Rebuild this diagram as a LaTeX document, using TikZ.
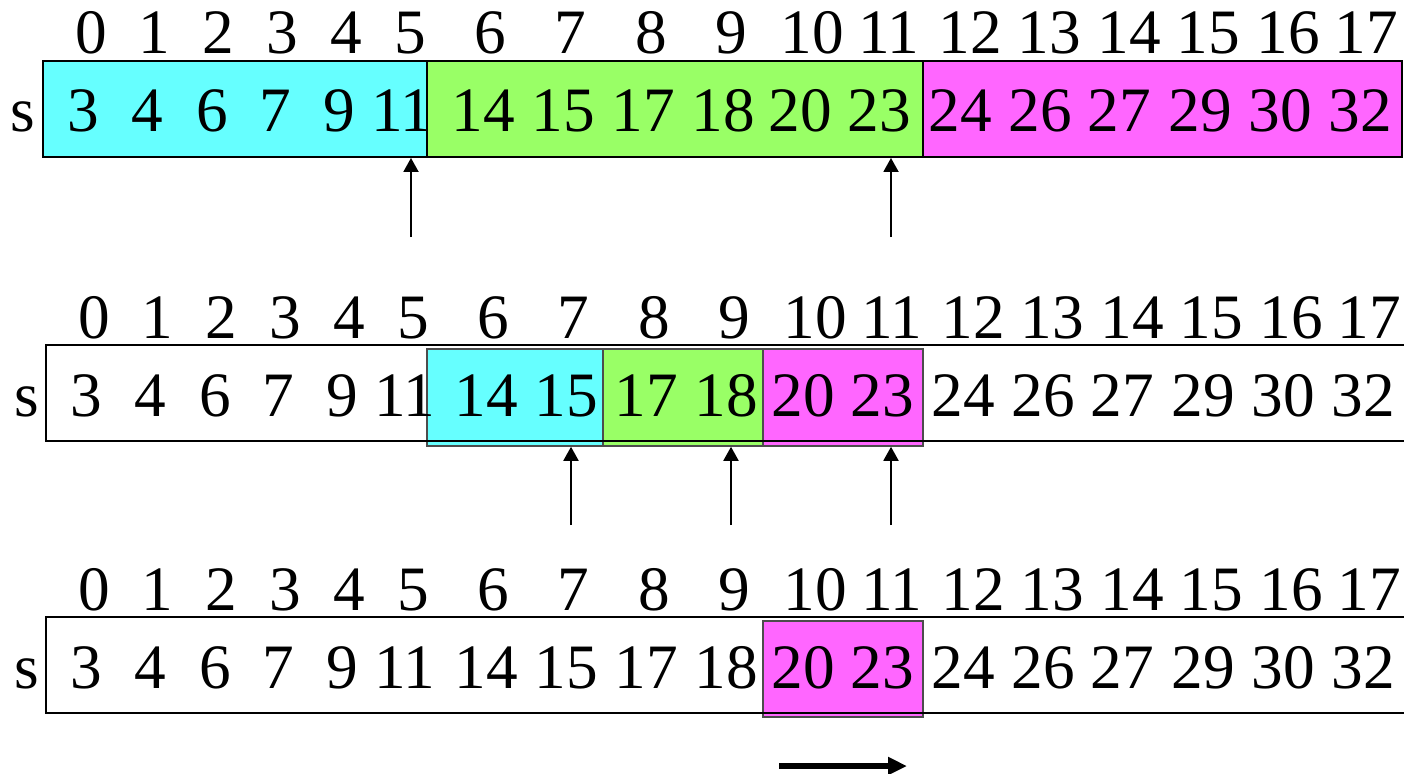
\documentclass[tikz,border=0pt]{standalone}
\usepackage{fontspec}
\setmainfont{Liberation Serif}
\usetikzlibrary{arrows.meta,fit}
\definecolor{segcyan}{RGB}{102,255,255}
\definecolor{seggreen}{RGB}{153,255,102}
\definecolor{segpink}{RGB}{255,102,255}
\tikzset{
  >={Triangle[length=2.8mm,width=3mm]},
  num/.style={font=\fontsize{36}{40}\selectfont,inner sep=0pt,anchor=base},
  row/.style={draw,line width=1.1pt,inner sep=0pt},
  seg/.style={fill=#1,draw,line width=1.1pt,inner sep=0pt},
  overlay/.style={fill=#1,draw=black!70,line width=0.9pt,inner sep=0pt},
  pointer/.style={->,line width=1.1pt},
  shift arrow/.style={-{Triangle[length=3.8mm,width=3.4mm]},line width=3.6pt},
}

\begin{document}
\begin{tikzpicture}[x=0.02cm,y=-0.02cm]
  \useasboundingbox (0,0) rectangle (1404,774);
  \clip (0,0) rectangle (1404,774);

  % first row: three parts
  \node[seg=segcyan,fit={(43,61) (427,157)}] (c1) {};
  \node[seg=seggreen,fit={(427,61) (923,157)}] (g1) {};
  \node[seg=segpink,fit={(923,61) (1402,157)}] (p1) {};
  \node[row,fit={(43,61) (1402,157)}] (row1) {};

  % second row
  \node[overlay=segcyan,fit={(427,349) (603,446)}] (c2) {};
  \node[overlay=seggreen,fit={(603,349) (763,446)}] (g2) {};
  \node[overlay=segpink,fit={(763,349) (923,446)}] (p2) {};
  \node[row,fit={(46,345) (1408,441)}] (row2) {};

  % third row
  \node[overlay=segpink,fit={(763,621) (923,717)}] (p3) {};
  \node[row,fit={(46,617) (1408,713)}] (row3) {};

  % indices, values and name of each row
  \foreach \rw/\y/\dx/\sx in {1/0/0/23,2/285/3/27,3/557/3/27}{
    \node[num] (s\rw) at (\sx,131+\y) {s};
    \foreach \x [count=\k from 0] in {91,154,218,282,346,410,490,570,651,731,812,889,970,1049,1129,1208,1288,1366}
      \node[num] (i\rw-\k) at (\x+\dx,53+\y) {\k};
    \foreach \x/\v [count=\k from 0] in {83/3,147/4,212/6,275/7,339/9,402/11,483/14,563/15,643/17,723/18,800/20,879/23,960/24,1040/26,1119/27,1200/29,1280/30,1360/32}
      \node[num] (v\rw-\k) at (\x+\dx,131+\y) {\v};
  }

  % pointers
  \coordinate (t1a) at (411,237);
  \coordinate (t1b) at (891,237);
  \draw[pointer] (t1a) -- (t1a |- row1.south);
  \draw[pointer] (t1b) -- (t1b |- row1.south);
  \coordinate (t2a) at (571,525);
  \coordinate (t2b) at (731,525);
  \coordinate (t2c) at (891,525);
  \draw[pointer] (t2a) -- (t2a |- c2.south);
  \draw[pointer] (t2b) -- (t2b |- g2.south);
  \draw[pointer] (t2c) -- (t2c |- p2.south);

  \coordinate (m0) at (779,766);
  \coordinate (m1) at (907,766);
  \draw[shift arrow] (m0) -- (m1);
\end{tikzpicture}
\end{document}
